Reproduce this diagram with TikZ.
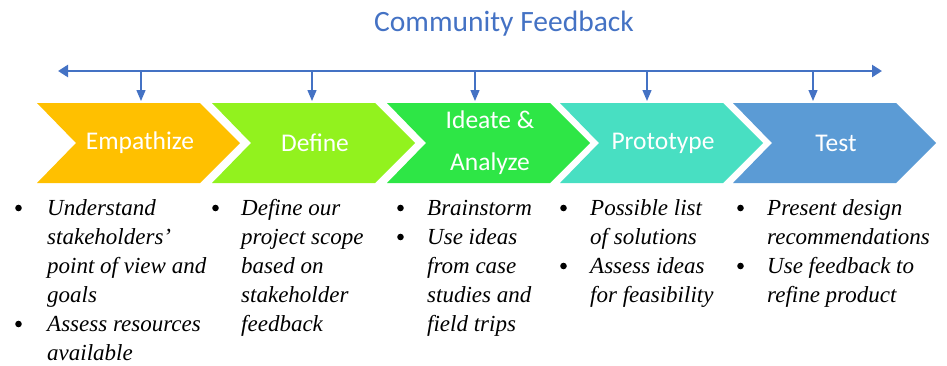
\documentclass[tikz,border=0pt]{standalone}
\usepackage{fontspec}
\setmainfont{Liberation Serif}
\newfontfamily\smartfont{Carlito}
\usetikzlibrary{arrows.meta}

\definecolor{fbblue}{HTML}{4472C4}
\definecolor{empcol}{HTML}{FFC000}
\definecolor{defcol}{HTML}{92F21E}
\definecolor{ideacol}{HTML}{2EE646}
\definecolor{protcol}{HTML}{48DFC2}
\definecolor{testcol}{HTML}{5B9BD5}

\tikzset{
  stage/.style={text=white,inner sep=0pt,align=center,
    font=\smartfont\fontsize{25.5}{42}\selectfont},
  notes/.style={anchor=north west,inner sep=0pt,
    font=\fontsize{23}{29}\selectfont\itshape},
  feed/.style={draw=fbblue,line width=1.3pt,
    -{Triangle[length=11pt,width=9pt]}}
}

\begin{document}
\begin{tikzpicture}[x=1pt,y=-1pt]
\useasboundingbox (0,0) rectangle (947,365);

\node[anchor=base,text=fbblue,font=\smartfont\fontsize{29.5}{34}\selectfont]
  (title) at (504,31.7) {Community Feedback};

\coordinate (fbL) at (58,71);
\coordinate (fbR) at (882,71);
\draw[draw=fbblue,line width=2.5pt,
  {Triangle[length=10pt,width=12pt]}-{Triangle[length=10pt,width=12pt]}]
  (fbL) -- (fbR);

\foreach \x/\a/\c/\n/\t in {
    37/141/empcol/emp/Empathize,
    212/312/defcol/def/Define,
    387/475/ideacol/idea/{Ideate \&\\Analyze},
    560/647/protcol/prot/Prototype,
    733/813/testcol/test/Test}{
  \fill[\c] (\x,103) -- ++(163,0) -- ++(40,40) -- ++(-40,40)
    -- ++(-163,0) -- ++(39,-40) -- cycle;
  \node[stage] (\n) at (\x+103,143) {\t};
  \coordinate (\n-fb) at (\a,71);
  \coordinate (\n-in) at (\a,101);
  \draw[feed] (\n-fb) -- (\n-in);
}

\node[notes] (empnotes) at (47,194.7) {\begin{tabular}{@{}l@{}}
  Understand\\
  stakeholders’\\
  point of view and\\
  goals\\
  Assess resources\\
  available
\end{tabular}};

\node[notes] (defnotes) at (241,194.7) {\begin{tabular}{@{}l@{}}
  Define our\\
  project scope\\
  based on\\
  stakeholder\\
  feedback
\end{tabular}};

\node[notes] (ideanotes) at (427,194.7) {\begin{tabular}{@{}l@{}}
  Brainstorm\\
  Use ideas\\
  from case\\
  studies and\\
  field trips
\end{tabular}};

\node[notes] (protnotes) at (590,194.7) {\begin{tabular}{@{}l@{}}
  Possible list\\
  of solutions\\
  Assess ideas\\
  for feasibility
\end{tabular}};

\node[notes] (testnotes) at (767,194.7) {\begin{tabular}{@{}l@{}}
  Present design\\
  recommendations\\
  Use feedback to\\
  refine product
\end{tabular}};

\foreach \bx/\row in {18.5/0, 18.5/4, 215.5/0, 400.5/0, 400.5/1,
    563.5/0, 563.5/2, 740.5/0, 740.5/2}
  \fill (\bx,208+29*\row) circle[radius=3.3];
\end{tikzpicture}
\end{document}
